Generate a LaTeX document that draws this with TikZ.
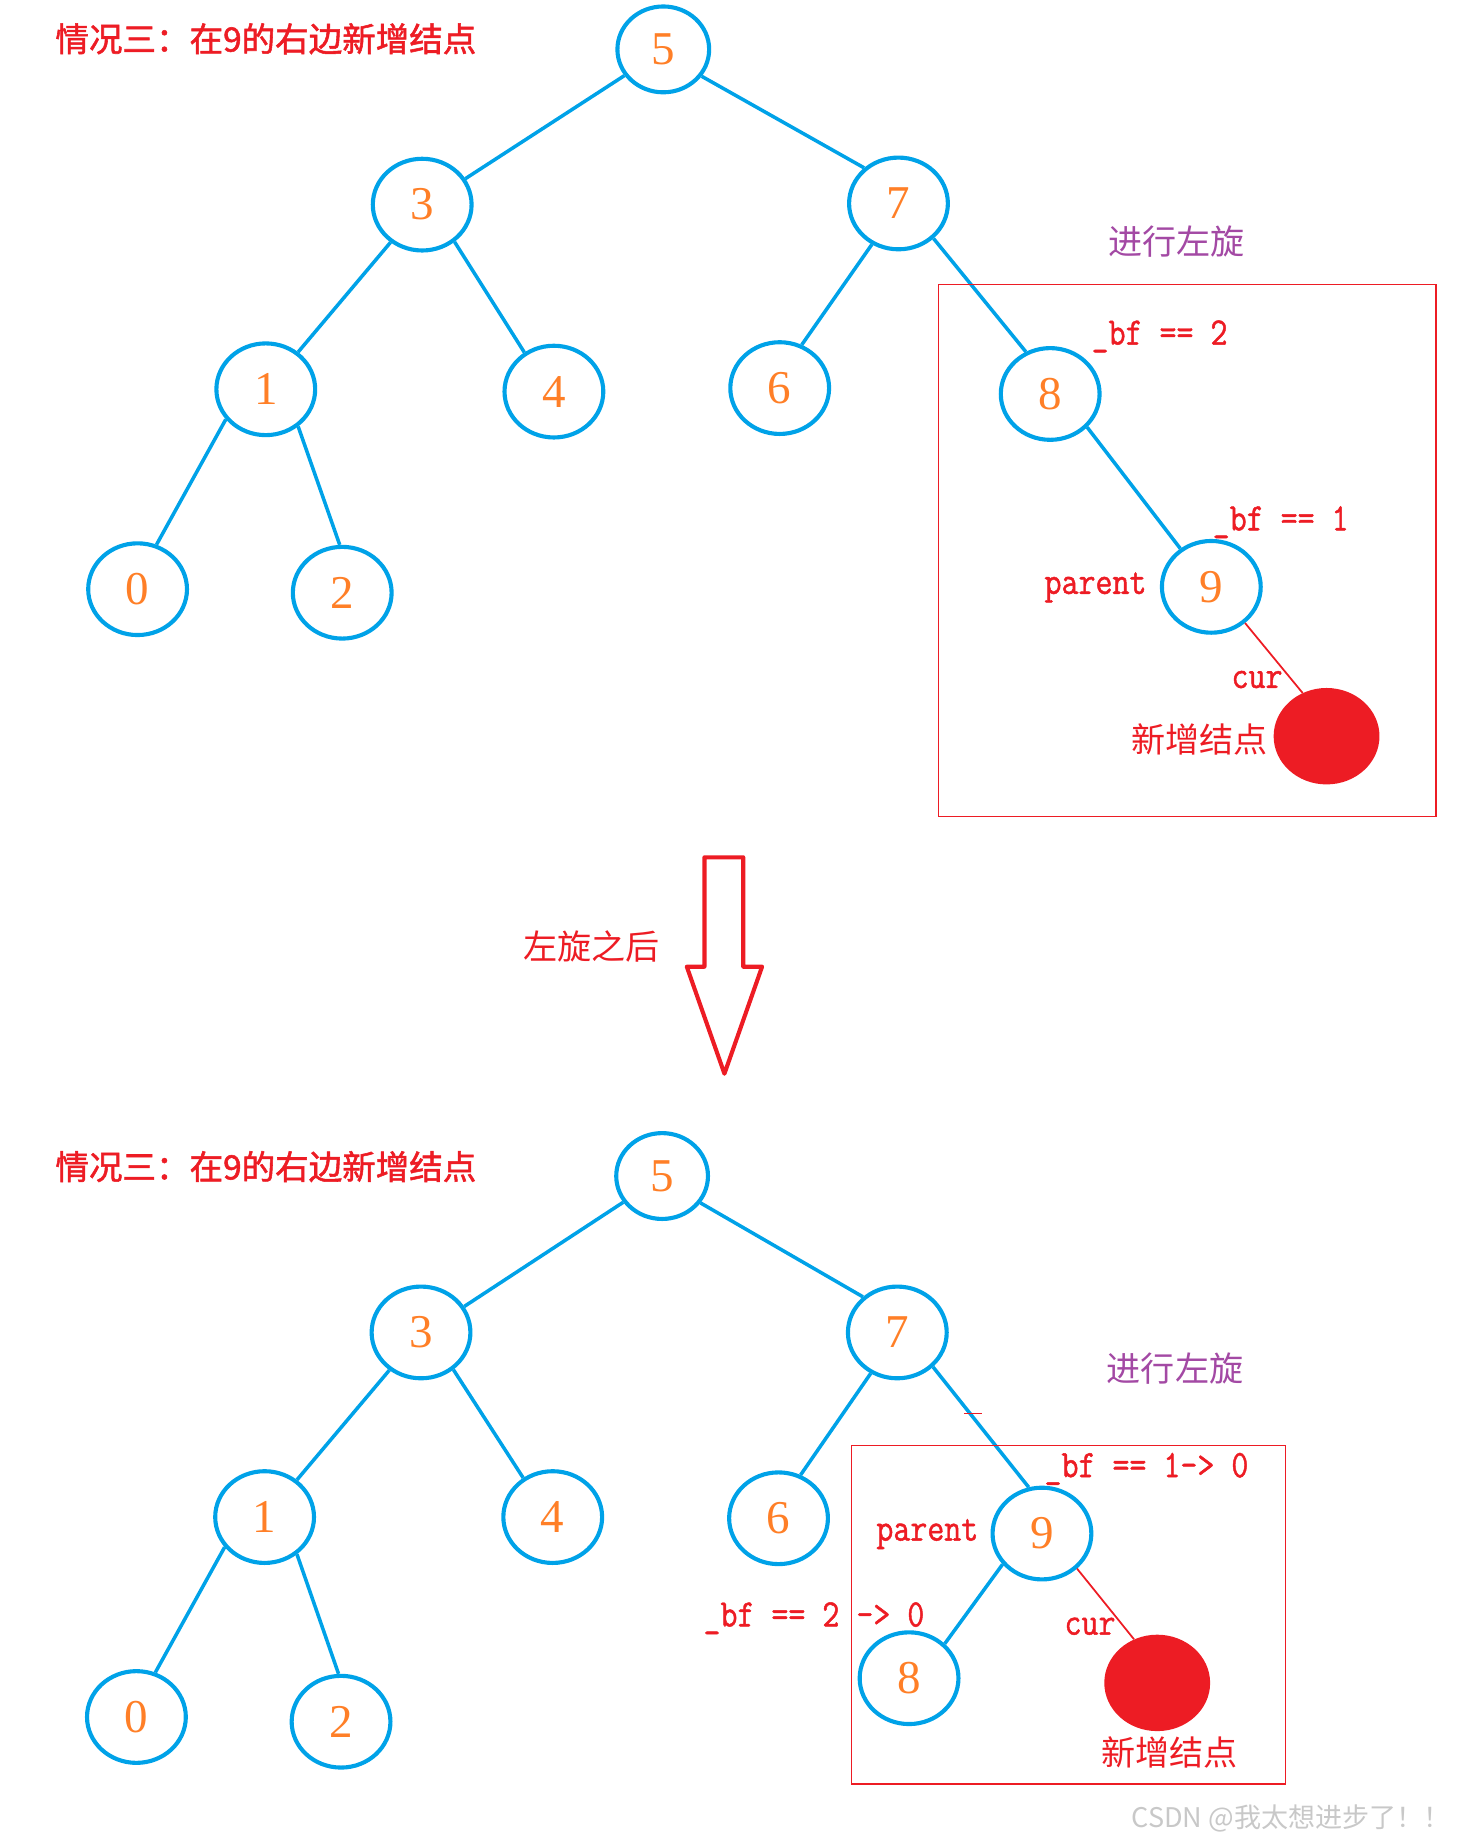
\documentclass[tikz,border=0pt]{standalone}
\usepackage{fontspec}
\usetikzlibrary{shapes.geometric}
\newfontfamily\cjk{Noto Sans CJK SC}
\newfontfamily\cjkb[FakeBold=1.6]{Noto Sans CJK SC}
\newfontfamily\monof[FakeStretch=0.85,FakeBold=1.2]{Latin Modern Mono}
\newfontfamily\digitf{Liberation Serif}
\newfontfamily\wmfont{Noto Sans CJK SC}
\definecolor{pblue}{RGB}{0,162,232}
\definecolor{porange}{RGB}{255,127,39}
\definecolor{pred}{RGB}{237,28,36}
\definecolor{ppurple}{RGB}{163,73,164}
\definecolor{wgray}{RGB}{200,200,200}
\tikzset{
  tn/.style={ellipse, draw=pblue, line width=3.5pt, minimum width=84pt, minimum height=78pt,
    inner sep=0pt, text=porange, font=\digitf\fontsize{40}{40}\selectfont},
  small/.style={minimum width=78pt, minimum height=73pt},
  newn/.style={ellipse, fill=pred, minimum width=90pt, minimum height=82pt, inner sep=0pt},
  tedge/.style={pblue, line width=3pt},
  redge/.style={pred, line width=1.5pt},
  frame/.style={pred, line width=1pt},
  code/.style={anchor=base west, inner sep=0pt, text=pred, font=\monof\fontsize{33}{33}\selectfont},
  cjkred/.style={anchor=west, inner sep=0pt, text=pred, font=\cjk\fontsize{29}{29}\selectfont},
  cjkpur/.style={anchor=west, inner sep=0pt, text=ppurple, font=\cjk\fontsize{29}{29}\selectfont},
  title/.style={anchor=west, inner sep=0pt, text=pred, font=\cjkb\fontsize{28.5}{28.5}\selectfont},
  bigarrow/.style={pred, line width=3.5pt, line join=round},
  wm/.style={anchor=west, inner sep=0pt, text=wgray, font=\wmfont\fontsize{23}{23}\selectfont}
}
\begin{document}
\begin{tikzpicture}[x=1pt, y=-1pt]
\useasboundingbox (0,0) rectangle (1252,1568);

% ---------- top tree ----------
\node[title] (title1) at (47,33) {情况三：在9的右边新增结点};
\node[tn, small] (t5) at (564,42) {5};
\node[tn] (t3) at (359,174) {3};
\node[tn] (t7) at (764,173) {7};
\node[tn] (t1) at (226,331) {1};
\node[tn] (t4) at (471,333) {4};
\node[tn] (t6) at (663,330) {6};
\node[tn] (t8) at (893,335) {8};
\node[tn] (t0) at (117,501) {0};
\node[tn] (t2) at (291,504) {2};
\node[tn] (t9) at (1030,499) {9};
\node[newn] (tnew) at (1128,626) {};

\draw[tedge] (t5.214) -- (t3.31);
\draw[tedge] (t5.325) -- (t7.134);
\draw[tedge] (t3.230) -- (t1.49);
\draw[tedge] (t3.311) -- (t4.127);
\draw[tedge] (t7.237) -- (t6.63);
\draw[tedge] (t7.315) -- (t8.120);
\draw[tedge] (t1.217) -- (t0.67);
\draw[tedge] (t1.311) -- (t2.93);
\draw[tedge] (t8.318) -- (t9.129);
\draw[redge] (t9.313) -- (tnew.119);

\node[cjkpur] (rot1) at (942,205) {进行左旋};
\draw[frame] (798,242) rectangle (1221,694);
\node[code] (bf1) at (928,293) {\_bf == 2};
\node[code] (bf2) at (1031,451) {\_bf == 1};
\node[code] (par1) at (888,505) {parent};
\node[code] (cur1) at (1047,585) {cur};
\node[cjkred] (new1) at (962,629) {新增结点};

% ---------- arrow ----------
\draw[bigarrow] (599,729) -- (632,729) -- (632,822) -- (648,822) -- (616,913) -- (584,822) -- (599,822) -- cycle;
\node[cjkred] (after) at (445,805) {左旋之后};

% ---------- bottom tree ----------
\node[title] (title2) at (47,992) {情况三：在9的右边新增结点};
\node[tn, small] (b5) at (563,1000) {5};
\node[tn] (b3) at (358,1133) {3};
\node[tn] (b7) at (763,1133) {7};
\node[tn] (b1) at (225,1290) {1};
\node[tn] (b4) at (470,1290) {4};
\node[tn] (b6) at (662,1291) {6};
\node[tn] (b0) at (116,1460) {0};
\node[tn] (b2) at (290,1464) {2};
\node[tn] (b9) at (886,1304) {9};
\node[tn] (b8) at (773,1427) {8};
\node[newn] (bnew) at (984,1431) {};

\draw[tedge] (b5.214) -- (b3.31);
\draw[tedge] (b5.325) -- (b7.134);
\draw[tedge] (b3.230) -- (b1.49);
\draw[tedge] (b3.311) -- (b4.127);
\draw[tedge] (b7.237) -- (b6.63);
\draw[tedge] (b7.316) -- (b9.106);
\draw[tedge] (b1.217) -- (b0.67);
\draw[tedge] (b1.311) -- (b2.93);
\draw[tedge] (b9.218) -- (b8.44);
\draw[redge] (b9.315) -- (bnew.118);

\coordinate (s1) at (820,1202);
\coordinate (s2) at (835,1202);
\draw[pred, line width=1pt] (s1) -- (s2);

\node[cjkpur] (rot2) at (941,1164) {进行左旋};
\draw[frame] (724,1229) rectangle (1093,1517);
\node[code] (bf3) at (888,1256) {\_bf == 1-> 0};
\node[code] (par2) at (745,1310) {parent};
\node[code] (bf4) at (598,1383) {\_bf == 2 -> 0};
\node[code] (cur2) at (905,1390) {cur};
\node[cjkred] (new2) at (936,1490) {新增结点};

\node[wm] (wmark) at (962,1546) {CSDN @我太想进步了！！};
\end{tikzpicture}
\end{document}
